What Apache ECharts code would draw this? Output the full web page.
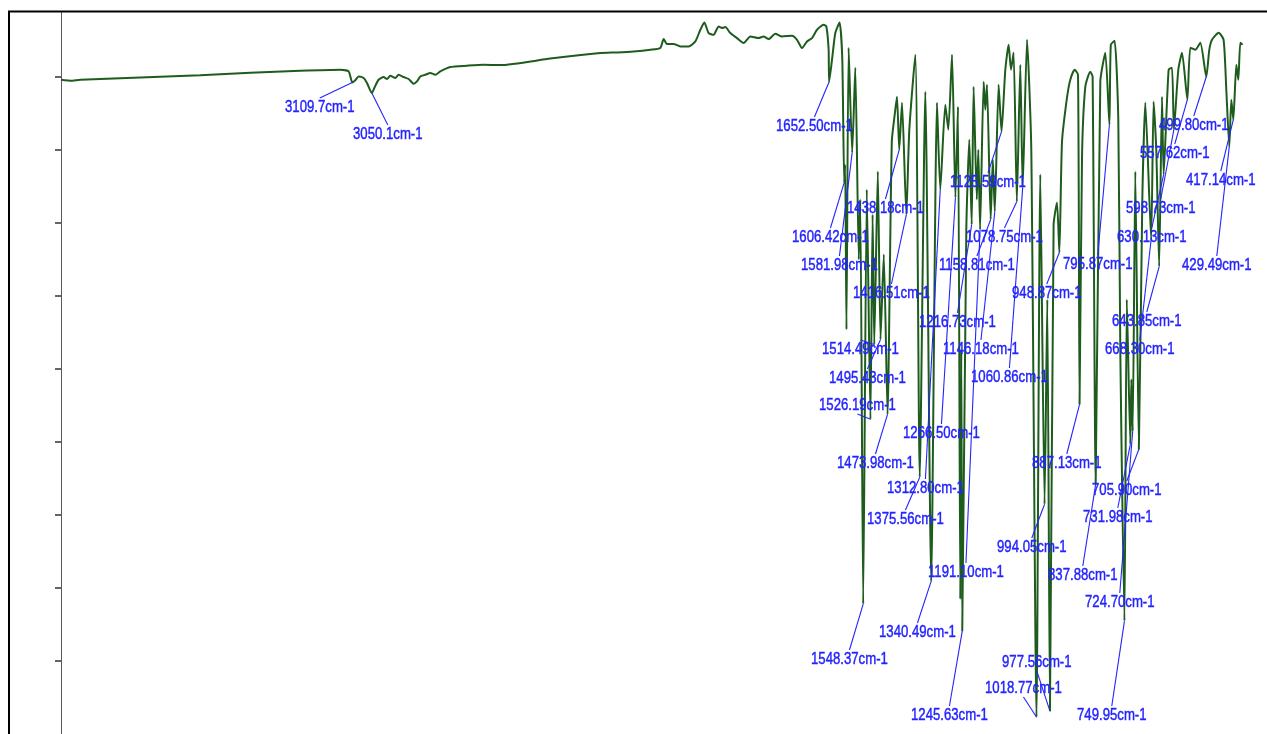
<!DOCTYPE html>
<html>
<head>
<meta charset="utf-8">
<title>IR spectrum</title>
<script src="https://cdn.jsdelivr.net/npm/echarts@6/dist/echarts.min.js"></script>
<style>
  html, body { margin: 0; padding: 0; background: #ffffff; }
  #chart { width: 1267px; height: 734px; }
</style>
</head>
<body>
<div id="chart"></div>
<script>
// Transmittance spectrum, wavenumber (cm-1) against %T.
// High-wavenumber part: mostly flat baseline with the weak C-H bands.
const baselineWavenumber = [
  4000, 3989.9, 3971.6, 3941, 3818.8, 3696.5, 3574.3, 3421.5, 3268.7, 3146.4,
  3121.0, 3109.7, 3100.6, 3090.5, 3075.2, 3064.8, 3050.1, 3042.5, 3029.4, 3014.1,
  3003.7, 2993.6, 2978.3, 2968.2, 2952.9, 2937.6, 2922.4, 2912.0, 2901.9, 2886.6,
  2871.3, 2856.1, 2840.8, 2810.2, 2759.2, 2708.4, 2657.4, 2504.6, 2351.6, 2300.6,
  2250.0, 2198.9, 2168.4, 2158.3, 2147.9, 2127.7, 2107.2, 2081.9, 2061.4, 2046.1,
  2033.9, 2020.7, 2005.5, 1990.2, 1979.8, 1969.7, 1954.5, 1934.0, 1913.8, 1893.3,
  1867.9, 1852.7, 1837.4, 1816.9, 1796.4, 1765.9, 1750.6, 1735.3, 1720.0, 1704.7,
  1689.5, 1669.3, 1661.0, 1654.0, 1652.50, 1643.6, 1633.6, 1620.5
];
const baselineTransmittance = [
  89.53, 89.47, 89.40, 89.53, 89.74, 89.94, 90.15, 90.49, 90.76, 90.90,
  90.67, 89.16, 89.45, 89.98, 89.77, 89.08, 87.71, 88.40, 89.53, 89.90,
  89.63, 90.08, 89.76, 90.21, 89.90, 89.63, 88.98, 89.30, 89.98, 90.21,
  90.45, 90.21, 90.67, 91.27, 91.45, 91.58, 91.54, 92.43, 93.18, 93.27,
  93.40, 93.63, 93.87, 95.10, 94.42, 94.42, 94.09, 94.09, 94.77, 96.37,
  97.36, 95.92, 95.68, 96.82, 96.60, 96.74, 95.92, 95.23, 94.55, 95.45,
  95.23, 95.45, 95.10, 95.82, 95.45, 95.55, 95.00, 93.87, 94.77, 95.23,
  96.37, 97.05, 96.82, 93.63, 89.26, 92.27, 95.92, 97.36
];

// Fingerprint region, 1620 - 390 cm-1.
const fingerprintWavenumber = [
  1612.2, 1606.42, 1603.5, 1599.5, 1592.9, 1581.98, 1572.5, 1561.8, 1557.2, 1548.37,
  1537.3, 1526.19, 1519.6, 1514.49, 1503.7, 1495.43, 1485.4, 1473.98, 1460.9, 1450.2,
  1445.0, 1438.18, 1429.7, 1416.51, 1407.4, 1389.1, 1375.56, 1358.5, 1340.49, 1322.8,
  1312.80, 1297.4, 1288.2, 1276.9, 1266.50, 1258.6, 1251.6, 1248.5, 1245.63, 1233.2,
  1224.0, 1216.73, 1210.9, 1201.1, 1196.5, 1191.10, 1180.3, 1175.1, 1170.0, 1158.81,
  1152.2, 1146.18, 1134.5, 1125.59, 1114.0, 1103.9, 1096.6, 1088.7, 1078.75, 1068.2,
  1060.86, 1047.7, 1034.6, 1018.77, 1007.1, 994.05, 985.7, 977.56, 966.4, 956.0,
  948.87, 940.7, 925.5, 915.4, 902.2, 891.8, 887.13, 879.6, 869.5, 854.3,
  847.2, 837.88, 823.7, 808.4, 795.87, 791.6, 780.0, 768.7, 762.6, 749.95,
  742.7, 731.98, 728.9, 724.70, 716.7, 705.90, 695.3, 686.1, 668.30, 660.8,
  652.6, 643.85, 635.1, 630.13, 614.9, 604.6, 598.73, 585.3, 574.0, 557.62,
  548.6, 533.3, 518.1, 499.80, 490.6, 482.3, 462.1, 446.9, 438.6, 429.49,
  423.3, 417.14, 408.0, 401.9, 395.8, 388.7
];
const fingerprintTransmittance = [
  92.27, 75.45, 77.91, 55.36, 93.91, 79.55, 91.17, 64.93, 73.13, 17.77,
  74.50, 43.06, 71.08, 53.31, 76.96, 53.99, 65.61, 43.74, 81.06, 85.43,
  87.21, 79.96, 86.39, 71.08, 82.70, 92.95, 35.13, 87.89, 20.91, 86.39,
  74.50, 86.11, 82.70, 92.95, 73.40, 85.84, 18.45, 52.63, 14.08, 69.03,
  81.33, 69.71, 88.58, 73.13, 79.96, 69.03, 89.26, 85.43, 88.85, 70.40,
  78.60, 71.49, 88.85, 82.42, 90.90, 94.32, 90.90, 93.22, 72.86, 91.58,
  74.77, 95.00, 79.96, 2.32, 76.55, 31.44, 59.46, 3.14, 69.71, 72.72,
  65.88, 81.06, 87.07, 89.53, 90.90, 90.22, 45.11, 78.87, 88.58, 90.63,
  89.94, 34.17, 89.26, 93.22, 83.38, 94.32, 94.86, 84.06, 52.63, 15.45,
  59.46, 39.64, 48.52, 41.42, 76.96, 38.96, 73.13, 86.39, 67.66, 86.52,
  79.96, 63.97, 87.21, 76.55, 90.90, 91.17, 82.70, 90.90, 93.22, 86.80,
  93.91, 93.63, 94.59, 89.94, 93.63, 95.00, 95.96, 95.00, 88.17, 80.37,
  86.80, 84.06, 91.58, 89.53, 94.59, 94.32
];

// Picked peaks, as printed next to each band.
const peakLabels = [
  '3109.7', '3050.1', '1652.50', '1606.42', '1581.98', '1548.37', '1526.19', '1514.49',
  '1495.43', '1473.98', '1438.18', '1416.51', '1375.56', '1340.49', '1312.80', '1266.50',
  '1245.63', '1216.73', '1191.10', '1158.81', '1146.18', '1125.59', '1078.75', '1060.86',
  '1018.77', '994.05', '977.56', '948.87', '887.13', '837.88', '795.87', '749.95',
  '731.98', '724.70', '705.90', '668.30', '643.85', '630.13', '598.73', '557.62',
  '499.80', '429.49', '417.14'
];

// Where each peak label sits on the page: [left, vertical centre] in px.
const labelLayout = [
  [285, 107], [353, 134], [776, 126], [792, 237], [801, 265], [811, 659], [819, 405], [822, 349],
  [829, 378], [837, 463], [847, 208], [853, 293], [867, 519], [879, 632], [887, 488], [903, 433],
  [911, 715], [919, 322], [928, 572], [939, 265], [943, 349], [950, 182], [966, 237], [971, 377],
  [985, 688], [997, 547], [1002, 662], [1012, 293], [1032, 463], [1048, 575], [1063, 264], [1077, 715],
  [1083, 517], [1085, 602], [1092, 490], [1105, 349], [1112, 321], [1117, 237], [1126, 208], [1140, 153],
  [1159, 125], [1182, 265], [1186, 180]
];

const LABEL_FONT = '17px "Liberation Sans", Arial, sans-serif';
const LABEL_SCALE_X = 0.775;
const LABEL_COLOR = '#2323ff';

const waveNumbers = baselineWavenumber.concat(fingerprintWavenumber);
const transmittance = baselineTransmittance.concat(fingerprintTransmittance);
const spectrum = waveNumbers.map((w, i) => [w, transmittance[i]]);

const peaks = peakLabels.map(s => {
  const w = parseFloat(s);
  const idx = waveNumbers.indexOf(w);
  return [w, transmittance[idx]];
});

const measureCtx = document.createElement('canvas').getContext('2d');
measureCtx.font = LABEL_FONT;
function labelWidth(text) {
  return measureCtx.measureText(text).width * LABEL_SCALE_X;
}

const chart = echarts.init(document.getElementById('chart'), null, { renderer: 'canvas' });

chart.setOption({
  animation: false,
  backgroundColor: '#ffffff',
  grid: { left: 61, top: 12, width: 1194.3, height: 723, containLabel: false },
  xAxis: {
    type: 'value',
    min: 350,
    max: 4000,
    inverse: true,
    axisLine: { show: false },
    axisTick: { show: false },
    axisLabel: { show: false },
    splitLine: { show: false }
  },
  yAxis: {
    type: 'value',
    min: 0,
    max: 98.8,
    interval: 10,
    axisLine: { show: true, lineStyle: { color: '#5a5a5a', width: 1 } },
    axisTick: {
      show: true,
      length: 6,
      lineStyle: { color: '#333333', width: 1.5 },
      customValues: [10, 20, 30, 40, 50, 60, 70, 80, 90]
    },
    axisLabel: { show: false },
    splitLine: { show: false }
  },
  graphic: [{
    type: 'rect',
    z: 100,
    shape: { x: 9, y: 11.5, width: 1400, height: 900 },
    style: { fill: null, stroke: '#000000', lineWidth: 2 }
  }],
  series: [
    {
      name: 'spectrum',
      type: 'line',
      data: spectrum,
      showSymbol: false,
      symbol: 'none',
      smooth: 0.2,
      clip: true,
      lineStyle: { color: '#1e5c1e', width: 2 },
      z: 2
    },
    {
      name: 'peaks',
      type: 'custom',
      coordinateSystem: 'cartesian2d',
      data: peaks,
      z: 5,
      renderItem: function (params, api) {
        const i = params.dataIndex;
        const tip = api.coord([api.value(0), api.value(1)]);
        const text = peakLabels[i] + 'cm-1';
        const lx = labelLayout[i][0];
        const ly = labelLayout[i][1];
        const cx = lx + labelWidth(text) / 2;
        const sy = tip[1] < ly ? ly - 9 : ly + 9;
        return {
          type: 'group',
          children: [
            {
              type: 'line',
              shape: { x1: cx, y1: sy, x2: tip[0], y2: tip[1] },
              style: { stroke: '#2424ff', lineWidth: 1.1 }
            },
            {
              type: 'text',
              x: lx,
              y: ly,
              scaleX: LABEL_SCALE_X,
              style: {
                text: text,
                font: LABEL_FONT,
                fill: LABEL_COLOR,
                stroke: LABEL_COLOR,
                lineWidth: 0.45,
                align: 'left',
                verticalAlign: 'middle'
              }
            }
          ]
        };
      }
    }
  ]
});
</script>
</body>
</html>
